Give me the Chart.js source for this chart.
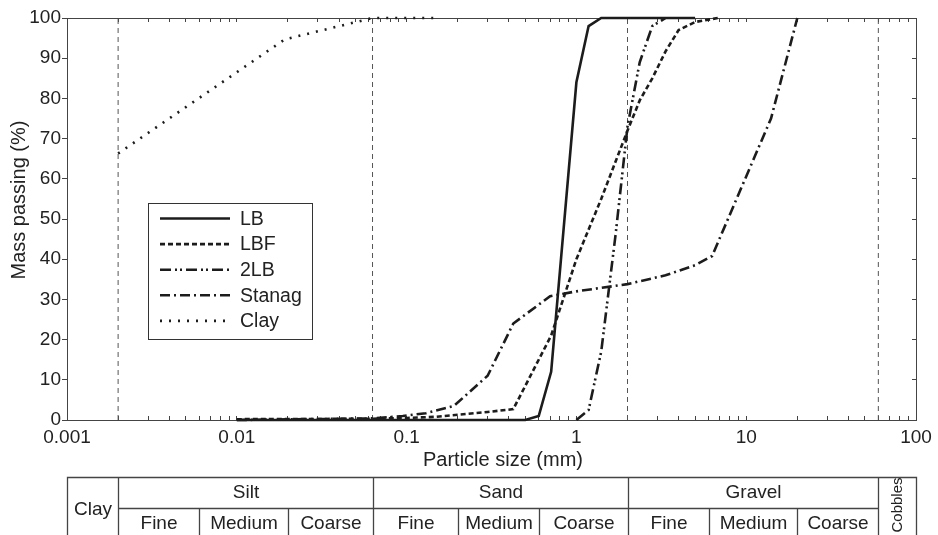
<!DOCTYPE html>
<html>
<head>
<meta charset="utf-8">
<script src="https://cdn.jsdelivr.net/npm/chart.js@4.4.1/dist/chart.umd.min.js"></script>
<style>
  html, body { margin: 0; padding: 0; background: #fff; }
  #wrap { width: 938px; height: 535px; position: relative; }
</style>
</head>
<body>
<div id="wrap"><canvas id="grading"></canvas></div>
<script>
// Particle size decades on the x axis and their labels
const xDecades = [0.001, 0.01, 0.1, 1, 10, 100];
const xTickLabels = ['0.001', '0.01', '0.1', '1', '10', '100'];

// Grading curves: sieve size (mm) and mass passing (%)
const seriesNames = ['LB', 'LBF', '2LB', 'Stanag', 'Clay'];

const lbSize = [0.01, 0.5, 0.6, 0.71, 1.0, 1.18, 1.4, 5.0];
const lbPassing = [0, 0, 1, 12, 84, 98, 100, 100];

const lbfSize = [0.01, 0.063, 0.1, 0.15, 0.3, 0.425, 0.71, 1.0, 1.4, 2.0, 2.36, 2.8, 3.35, 4.0, 5.0, 6.8];
const lbfPassing = [0.2, 0.3, 0.5, 0.8, 2.0, 2.7, 21, 40, 55, 72, 79.5, 85, 91.7, 97, 99, 100];

const twoLbSize = [1.0, 1.18, 1.4, 1.7, 2.0, 2.36, 2.8, 3.35];
const twoLbPassing = [0, 2.5, 17, 46, 73, 89, 98, 100];

const stanagSize = [0.01, 0.063, 0.095, 0.13, 0.19, 0.3, 0.425, 0.7, 1.0, 2.0, 3.35, 5.0, 6.3, 14, 20];
const stanagPassing = [0, 0.4, 1, 1.7, 3.5, 11, 24, 30.8, 32, 33.8, 36, 38.5, 40.8, 75, 100];

const claySize = [0.002, 0.0192, 0.063, 0.15];
const clayPassing = [66.3, 94.7, 100, 100];

// Soil fraction limits (mm) used for the dashed guide lines and the table
const boundarySizes = [0.002, 0.063, 2, 60];
const fractionLimits = [0.001, 0.002, 0.063, 2, 60, 100];
const fractionNames = ['Clay', 'Silt', 'Sand', 'Gravel', 'Cobbles'];
const subLimits = { Silt: [0.006, 0.02], Sand: [0.2, 0.6], Gravel: [6, 20] };
const subNames = ['Fine', 'Medium', 'Coarse'];

const FONT = "'Liberation Sans', Arial, Helvetica, sans-serif";
const INK = '#1c1c1c';
const AXIS = '#444';
const TEXT = '#222';

Chart.defaults.font.family = FONT;
Chart.defaults.color = TEXT;

const toPoints = (xs, ys) => xs.map((x, i) => ({ x: x, y: ys[i] }));

const curveStyles = [
  { borderDash: [] },
  { borderDash: [5, 3] },
  { borderDash: [11, 4, 2, 3, 2, 4] },
  { borderDash: [10, 4, 2, 4] },
  { borderDash: [2, 7] }
];
const curveData = [
  toPoints(lbSize, lbPassing),
  toPoints(lbfSize, lbfPassing),
  toPoints(twoLbSize, twoLbPassing),
  toPoints(stanagSize, stanagPassing),
  toPoints(claySize, clayPassing)
];

const datasets = seriesNames.map((name, i) => ({
  label: name,
  data: curveData[i],
  borderColor: INK,
  borderWidth: 2.6,
  borderDash: curveStyles[i].borderDash,
  pointRadius: 0,
  tension: 0,
  fill: false,
  clip: false,
  xAxisID: 'x',
  yAxisID: 'y'
}));

boundarySizes.forEach(b => {
  datasets.push({
    label: 'limit ' + b,
    data: [{ x: b, y: 0 }, { x: b, y: 100 }],
    borderColor: '#555',
    borderWidth: 1,
    borderDash: [5, 4],
    pointRadius: 0,
    fill: false,
    xAxisID: 'x',
    yAxisID: 'y'
  });
});

// keep only ticks at whole multiples of each decade (1..9 x 10^k)
function wholeLogTicks(scale) {
  scale.ticks = scale.ticks.filter(t => {
    const e = Math.floor(Math.log10(t.value) + 1e-9);
    const m = t.value / Math.pow(10, e);
    return Math.abs(m - Math.round(m)) < 1e-6;
  });
}

function decadeLabel(value) {
  for (let i = 0; i < xDecades.length; i++) {
    if (Math.abs(Math.log10(value) - Math.log10(xDecades[i])) < 1e-6) return xTickLabels[i];
  }
  return '';
}

// horizontal axes: fixed height, no extra side padding for end labels
const fixHorizontal = h => s => { s.height = h; s.paddingLeft = 0; s.paddingRight = 0; };

const whiteBackground = {
  id: 'whiteBackground',
  beforeDraw(chart) {
    const c = chart.ctx;
    c.save();
    c.fillStyle = '#fff';
    c.fillRect(0, 0, chart.width, chart.height);
    c.restore();
  }
};

const axisTitles = {
  id: 'axisTitles',
  afterDraw(chart) {
    const c = chart.ctx;
    c.save();
    c.fillStyle = TEXT;
    c.font = '20px ' + FONT;
    c.textAlign = 'center';
    c.textBaseline = 'middle';
    c.fillText('Particle size (mm)', 503, 460);
    c.translate(19, 200);
    c.rotate(-Math.PI / 2);
    c.fillText('Mass passing (%)', 0, 0);
    c.restore();
  }
};

const curveLegend = {
  id: 'curveLegend',
  afterDraw(chart) {
    const c = chart.ctx;
    const left = 148.5, top = 203.5, w = 164, h = 136;
    c.save();
    c.fillStyle = '#fff';
    c.fillRect(left, top, w, h);
    c.strokeStyle = '#333';
    c.lineWidth = 1;
    c.strokeRect(left, top, w, h);
    c.font = '19.5px ' + FONT;
    c.textBaseline = 'middle';
    c.textAlign = 'left';
    seriesNames.forEach((name, i) => {
      const ds = chart.data.datasets[i];
      const y = 218.5 + i * 25.6;
      c.strokeStyle = ds.borderColor;
      c.lineWidth = ds.borderWidth;
      c.setLineDash(ds.borderDash);
      c.beginPath();
      c.moveTo(160, y);
      c.lineTo(230, y);
      c.stroke();
      c.setLineDash([]);
      c.fillStyle = TEXT;
      c.fillText(name, 240, y + 1);
    });
    c.restore();
  }
};

const sizeTable = {
  id: 'sizeTable',
  afterDraw(chart) {
    const c = chart.ctx;
    const xs = chart.scales.x;
    const px = v => Math.round(xs.getPixelForValue(v)) + 0.5;
    const top = 477.5, mid = 508.5, bottom = chart.height + 5;
    const first = fractionLimits[0], last = fractionLimits[fractionLimits.length - 1];
    c.save();
    c.strokeStyle = AXIS;
    c.lineWidth = 1.3;
    c.beginPath();
    c.moveTo(px(first), bottom); c.lineTo(px(first), top);
    c.lineTo(px(last), top); c.lineTo(px(last), bottom);
    for (let i = 1; i < fractionLimits.length - 1; i++) {
      c.moveTo(px(fractionLimits[i]), top);
      c.lineTo(px(fractionLimits[i]), bottom);
    }
    c.moveTo(px(fractionLimits[1]), mid);
    c.lineTo(px(fractionLimits[fractionLimits.length - 2]), mid);
    Object.keys(subLimits).forEach(k => {
      subLimits[k].forEach(v => { c.moveTo(px(v), mid); c.lineTo(px(v), bottom); });
    });
    c.stroke();

    c.fillStyle = TEXT;
    c.textAlign = 'center';
    c.textBaseline = 'middle';
    c.font = '19px ' + FONT;
    fractionNames.forEach((name, i) => {
      const a = px(fractionLimits[i]), b = px(fractionLimits[i + 1]);
      const cx = (a + b) / 2;
      if (subLimits[name]) {
        c.fillText(name, cx, 493);
        const edges = [fractionLimits[i]].concat(subLimits[name], [fractionLimits[i + 1]]);
        subNames.forEach((s, j) => {
          c.fillText(s, (px(edges[j]) + px(edges[j + 1])) / 2, 524);
        });
      } else if (name === 'Cobbles') {
        c.save();
        c.font = '15px ' + FONT;
        c.translate(cx, 505);
        c.rotate(-Math.PI / 2);
        c.fillText(name, 0, 0);
        c.restore();
      } else {
        c.fillText(name, cx, 510);
      }
    });
    c.restore();
  }
};

const tickFont = { size: 19, family: FONT };

new Chart(document.getElementById('grading'), {
  type: 'line',
  data: { datasets: datasets },
  options: {
    responsive: true,
    maintainAspectRatio: false,
    animation: false,
    events: [],
    layout: { padding: { left: 0, top: 0, right: 0, bottom: 60 } },
    plugins: { legend: { display: false }, tooltip: { enabled: false }, title: { display: false } },
    scales: {
      x: {
        type: 'logarithmic',
        position: 'bottom',
        min: 0.001,
        max: 100,
        afterBuildTicks: wholeLogTicks,
        afterFit: fixHorizontal(55),
        grid: { drawOnChartArea: false, drawTicks: true, tickLength: -4, color: AXIS, tickColor: AXIS },
        border: { display: true, color: AXIS, width: 1 },
        ticks: { autoSkip: false, maxRotation: 0, minRotation: 0, padding: 10.5, color: TEXT, font: tickFont, callback: v => decadeLabel(v) }
      },
      xTop: {
        type: 'logarithmic',
        position: 'top',
        min: 0.001,
        max: 100,
        afterBuildTicks: wholeLogTicks,
        afterFit: fixHorizontal(18),
        grid: { drawOnChartArea: false, drawTicks: true, tickLength: -4, color: AXIS, tickColor: AXIS },
        border: { display: true, color: AXIS, width: 1 },
        ticks: { autoSkip: false, maxRotation: 0, padding: 0, callback: () => '' }
      },
      y: {
        type: 'linear',
        position: 'left',
        min: 0,
        max: 100,
        afterFit: s => { s.width = 67; },
        grid: { drawOnChartArea: false, drawTicks: true, tickLength: 5, color: AXIS, tickColor: AXIS },
        border: { display: true, color: AXIS, width: 1 },
        ticks: { stepSize: 10, padding: 1, color: TEXT, font: tickFont }
      },
      yRight: {
        type: 'linear',
        position: 'right',
        min: 0,
        max: 100,
        afterFit: s => { s.width = 22; },
        grid: { drawOnChartArea: false, drawTicks: true, tickLength: -4, color: AXIS, tickColor: AXIS },
        border: { display: true, color: AXIS, width: 1 },
        ticks: { stepSize: 10, padding: 0, callback: () => '' }
      }
    }
  },
  plugins: [whiteBackground, axisTitles, curveLegend, sizeTable]
});
</script>
</body>
</html>
